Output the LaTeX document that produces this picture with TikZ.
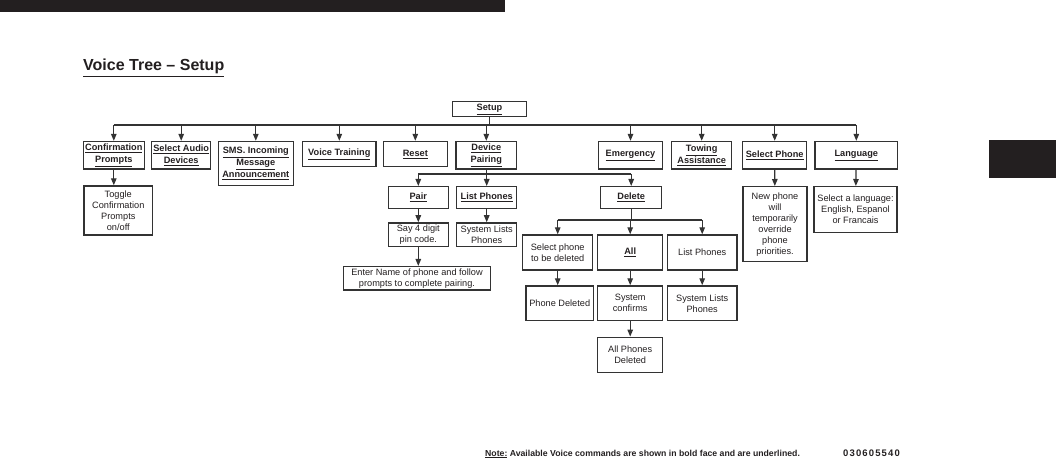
\documentclass[tikz,border=0pt]{standalone}
\usepackage{fontspec}
\setmainfont{Liberation Sans}
\definecolor{ink}{HTML}{231F20}
\definecolor{rule}{HTML}{333333}
\usetikzlibrary{arrows.meta}
\newcommand{\cmd}[1]{\textbf{\underline{#1}}}

\begin{document}
\begin{tikzpicture}[x=1pt, y=-1pt,
  bx/.style={rectangle, draw=rule, line width=1.4pt, inner sep=0pt, align=center,
             font=\fontsize{9.2}{11}\selectfont, text=ink},
  bb/.style={bx, font=\fontsize{9.2}{12}\selectfont},
  ar/.style={-{Triangle[width=5.5pt,length=7pt]}, line width=1.2pt, color=rule},
  ln/.style={line width=1.2pt, color=rule},
  txt/.style={anchor=base west, inner sep=0pt, text=ink},
]
\useasboundingbox (0,0) rectangle (1056,462);
\fill[ink] (0,0) rectangle (505,12);
\fill[ink] (989,140) rectangle (1056,178);
\node[txt, font=\fontsize{16}{18}\selectfont\bfseries] (title) at (83,71) {\underline{Voice Tree -- Setup}};

% top level
\node[bb, minimum width=74, minimum height=15] (setup) at (489.5,109.2) {\cmd{Setup}};
\coordinate (bus) at (489.5,125);
\node[bb, minimum width=61, minimum height=27.5] (cp) at (113.8,155.3) {\cmd{Confirmation}\\\cmd{Prompts}};
\node[bb, minimum width=59, minimum height=27.5] (sad) at (181.2,155.3) {\cmd{Select Audio}\\\cmd{Devices}};
\node[bb, minimum width=75, minimum height=44.2] (sms) at (255.8,163.6) {\cmd{SMS. Incoming}\\\cmd{Message}\\\cmd{Announcement}};
\node[bb, minimum width=73.3, minimum height=25.2] (vt) at (339.3,154.1) {\cmd{Voice Training}};
\node[bb, minimum width=64, minimum height=25.2] (rst) at (415.3,154.1) {\cmd{Reset}};
\node[bb, minimum width=60.7, minimum height=27.5] (dp) at (486.3,155.3) {\cmd{Device}\\\cmd{Pairing}};
\node[bb, minimum width=64.4, minimum height=27.5] (em) at (630.5,155.3) {\cmd{Emergency}};
\node[bb, minimum width=60, minimum height=27.5] (tow) at (701.7,155.3) {\cmd{Towing}\\\cmd{Assistance}};
\node[bb, minimum width=64, minimum height=27.5] (sp) at (774.7,155.3) {\cmd{Select Phone}};
\node[bb, minimum width=82.7, minimum height=27.5] (lang) at (856.3,155.3) {\cmd{Language}};
\draw[ln] (setup) -- (bus);
\draw[ln] (cp |- bus) -- (lang |- bus);
\foreach \n in {cp,sad,sms,vt,rst,dp,em,tow,sp,lang}
  \draw[ar] (\n |- bus) -- (\n);

% second level
\node[bx, minimum width=68.7, minimum height=49] (tog) at (118.3,210.5) {Toggle\\Confirmation\\Prompts\\on/off};
\node[bb, minimum width=60, minimum height=21.6] (pair) at (418.3,197.5) {\cmd{Pair}};
\node[bb, minimum width=60, minimum height=21.6] (lp) at (486.7,197.5) {\cmd{List Phones}};
\node[bb, minimum width=61, minimum height=21.6] (del) at (631.2,197.5) {\cmd{Delete}};
\node[bx, minimum width=64, minimum height=75] (np) at (775,224.2) {New phone\\will\\temporarily\\override\\phone\\priorities.};
\node[bx, minimum width=83, minimum height=46] (sl) at (855.5,209.7) {Select a language:\\English, Espanol\\or Francais};
\coordinate (dbus) at (486.7,174);
\draw[ar] (cp) -- (cp |- tog.north);
\draw[ln] (pair |- dbus) -- (del |- dbus);
\draw[ln] (dp) -- (dp |- dbus);
\foreach \n in {pair,lp,del}
  \draw[ar] (\n |- dbus) -- (\n);
\draw[ar] (sp) -- (np);
\draw[ar] (lang) -- (sl);

% pairing
\node[bx, minimum width=60, minimum height=23.7] (say) at (418.3,234.8) {Say 4 digit\\pin code.};
\node[bx, minimum width=60, minimum height=23.7] (sys) at (486.7,234.8) {System Lists\\Phones};
\node[bx, minimum width=147.4, minimum height=23.3] (ent) at (417,278.3) {Enter Name of phone and follow\\prompts to complete pairing.};
\draw[ar] (pair) -- (say);
\draw[ar] (lp) -- (sys);
\draw[ar] (say) -- (say |- ent.north);

% delete
\node[bx, minimum width=70, minimum height=35] (spd) at (557.7,252.5) {Select phone\\to be deleted};
\node[bb, minimum width=65, minimum height=35] (all) at (630.2,252.5) {\cmd{All}};
\node[bx, minimum width=69.7, minimum height=35] (lp2) at (702.2,252.5) {List Phones};
\node[bx, minimum width=67.3, minimum height=34.7] (pd) at (559.7,303.3) {Phone Deleted};
\node[bx, minimum width=65, minimum height=34.7] (sc) at (630.2,303.3) {System\\confirms};
\node[bx, minimum width=69.7, minimum height=34.7] (sys2) at (702.2,303.3) {System Lists\\Phones};
\node[bx, minimum width=65, minimum height=35.4] (apd) at (630.2,355) {All Phones\\Deleted};
\coordinate (xbus) at (630.2,220);
\draw[ln] (del) -- (del |- xbus);
\draw[ln] (spd |- xbus) -- (lp2 |- xbus);
\foreach \n in {spd,all,lp2}
  \draw[ar] (\n |- xbus) -- (\n);
\draw[ar] (spd) -- (spd |- pd.north);
\draw[ar] (all) -- (sc);
\draw[ar] (lp2) -- (sys2);
\draw[ar] (sc) -- (apd);

% footnote
\node[txt, font=\fontsize{8.7}{11}\selectfont\bfseries] (note) at (485,456) {\underline{Note:} Available Voice commands are shown in bold face and are underlined.};
\node[txt, font=\fontsize{9.5}{11}\selectfont\bfseries\addfontfeatures{LetterSpace=12}] (code) at (843,456) {030605540};
\end{tikzpicture}
\end{document}
